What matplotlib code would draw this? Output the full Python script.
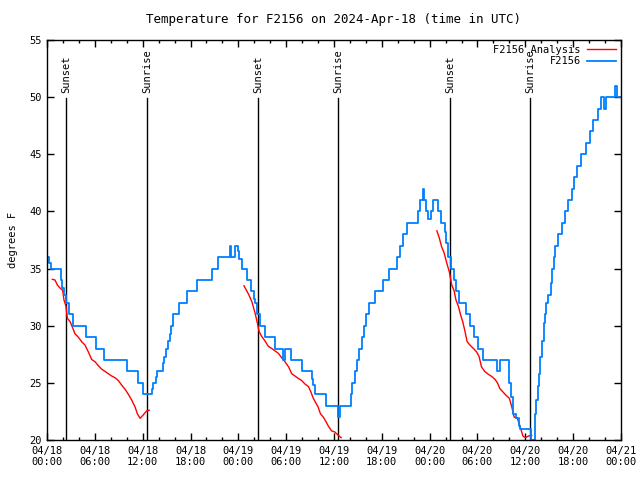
import numpy as np
import matplotlib.pyplot as plt
from matplotlib.ticker import MultipleLocator

# hours since 2024-04-18 00:00 UTC

# -- observed station temperature (value holds until next change)
obs_h = [0.0, 0.3, 0.5, 1.72, 1.92, 2.13, 2.38, 2.7, 3.3, 4.9, 6.15, 7.15, 10.07,
         11.4, 12.1, 13.15, 13.3, 13.7, 13.85, 14.5, 14.65, 14.9, 15.2, 15.4, 15.6,
         15.85, 16.5, 17.5, 18.85, 20.66, 21.5, 22.9, 23.1, 23.6, 23.95, 24.1, 24.4,
         25.1, 25.6, 25.95, 26.1, 26.4, 26.7, 27.35, 28.6, 29.6, 29.85, 30.6, 31.95,
         33.2, 33.4, 33.6, 35.0, 36.55, 36.8, 38.1, 38.3, 38.6, 38.85, 39.1, 39.45,
         39.75, 40.0, 40.4, 41.1, 42.1, 42.9, 43.9, 44.3, 44.6, 45.2, 46.5, 46.8,
         47.2, 47.35, 47.55, 47.8, 48.15, 48.4, 49.1, 49.4, 49.9, 50.1, 50.3, 50.7,
         51.05, 51.3, 51.7, 52.6, 53.1, 53.6, 54.1, 54.7, 56.5, 56.8, 58.0, 58.2,
         58.5, 58.8, 59.2, 59.35, 60.7, 61.2, 61.35, 61.6, 61.7, 61.9, 62.1, 62.3,
         62.45, 62.6, 62.9, 63.2, 63.4, 63.6, 63.7, 64.1, 64.6, 65.0, 65.4, 65.8,
         66.1, 66.5, 66.95, 67.6, 68.1, 68.5, 69.1, 69.5, 69.85, 70.1, 71.25, 71.45,
         72.0]
obs_t = [36, 35.5, 35, 34, 33.3, 32.7, 32, 31, 30, 29, 28, 27, 26,
         25, 24, 24.5, 25, 25.5, 26, 26.7, 27.3, 28, 28.7, 29.3, 30,
         31, 32, 33, 34, 35, 36, 37, 36, 37, 36.5, 35.8, 35,
         34, 33, 32.3, 32, 31, 30, 29, 28, 27, 28, 27, 26,
         25.3, 24.8, 24, 23, 22, 23, 24, 25, 26, 27, 28, 29,
         30, 31, 32, 33, 34, 35, 36, 37, 38, 39, 40, 41,
         42, 41, 40, 39.3, 40, 41, 40, 39, 38.2, 37.2, 36, 35,
         34, 33, 32, 31, 30, 29, 28, 27, 26, 27, 25, 23.8,
         22.3, 21.9, 21.2, 21, 20, 22.3, 23.5, 24.7, 25.8, 27.3, 28.7, 30.2,
         31, 32, 32.7, 33.7, 35, 36, 37, 38, 39, 40, 41, 42,
         43, 44, 45, 46, 47, 48, 49, 50, 49, 50, 51, 50,
         50]

# -- analysis, three night segments
ana1_h = [0.67, 1.0, 1.3, 1.63, 1.96, 2.13, 2.38, 2.55, 2.9, 3.2, 3.5, 3.93, 4.35,
          4.77, 5.19, 5.6, 6.02, 6.44, 6.86, 7.28, 7.69, 8.11, 8.53, 8.95, 9.37,
          9.78, 10.2, 10.62, 11.04, 11.33, 11.67, 12.08, 12.5, 12.83]
ana1_t = [34.06, 34.0, 33.56, 33.3, 33.1, 32.25, 31.7, 30.65, 30.35, 29.85, 29.3,
          29.0, 28.6, 28.3, 27.7, 27.05, 26.85, 26.5, 26.2, 26.0, 25.8, 25.6, 25.45,
          25.2, 24.8, 24.45, 24.0, 23.5, 22.9, 22.3, 21.9, 22.2, 22.55, 22.6]

ana2_h = [24.7, 25.25, 25.7, 26.1, 26.4, 26.6, 26.9, 27.35, 27.76, 28.2, 28.6, 29.0,
          29.44, 29.85, 30.3, 30.7, 31.1, 31.5, 31.95, 32.36, 32.8, 33.1, 33.4, 33.75,
          34.0, 34.3, 34.66, 35.0, 35.3, 35.7, 36.1, 36.55, 36.9]
ana2_t = [33.5, 32.8, 32.1, 31.1, 30.2, 29.5, 29.1, 28.66, 28.2, 28.0, 27.8, 27.6,
          27.2, 26.85, 26.4, 25.8, 25.6, 25.4, 25.2, 24.9, 24.67, 24.2, 23.65, 23.2,
          22.9, 22.3, 22.0, 21.6, 21.2, 20.8, 20.7, 20.4, 20.2]

ana3_h = [48.9, 49.2, 49.5, 49.8, 50.1, 50.47, 50.77, 51.05, 51.3, 51.6, 51.9, 52.15,
          52.43, 52.7, 53.06, 53.5, 53.9, 54.2, 54.5, 54.9, 55.36, 55.8, 56.2, 56.5,
          56.8, 57.2, 57.66, 58.0, 58.3, 58.6, 59.0, 59.33, 59.7, 60.0, 60.4, 60.8]
ana3_t = [38.3, 37.7, 36.9, 36.4, 35.6, 34.7, 33.56, 33.1, 32.25, 31.7, 30.9, 30.35,
          29.5, 28.6, 28.3, 28.0, 27.7, 27.3, 26.4, 26.0, 25.75, 25.55, 25.3, 25.0,
          24.5, 24.2, 23.85, 23.65, 22.9, 22.0, 21.9, 21.2, 20.35, 20.2, 20.35, 20.4]

sunset_h = [2.42, 26.5, 50.59]
sunrise_h = [12.58, 36.54, 60.62]

xtick_h = list(range(0, 73, 6))
xtick_labels = ['04/18\n00:00', '04/18\n06:00', '04/18\n12:00', '04/18\n18:00',
                '04/19\n00:00', '04/19\n06:00', '04/19\n12:00', '04/19\n18:00',
                '04/20\n00:00', '04/20\n06:00', '04/20\n12:00', '04/20\n18:00',
                '04/21\n00:00']

plt.rcParams['font.family'] = 'DejaVu Sans Mono'
plt.rcParams['font.size'] = 7.5

fig = plt.figure(figsize=(6.4, 4.8), dpi=100)
ax = fig.add_axes([47 / 640, 40 / 480, 574 / 640, 400 / 480])

# -- sun lines
for h in sunset_h:
    ax.plot([h, h], [20, 49.9], color='k', lw=1)
    ax.text(h, 50.4, 'Sunset', rotation=90, ha='center', va='bottom')
for h in sunrise_h:
    ax.plot([h, h], [20, 49.9], color='k', lw=1)
    ax.text(h, 50.4, 'Sunrise', rotation=90, ha='center', va='bottom')

# -- series
ax.plot(ana1_h, ana1_t, color='#ff0000', lw=1, label='F2156 Analysis')
ax.plot(ana2_h, ana2_t, color='#ff0000', lw=1)
ax.plot(ana3_h, ana3_t, color='#ff0000', lw=1)
ax.plot(obs_h, obs_t, color='#0080ff', lw=1.3, drawstyle='steps-post', label='F2156')

ax.set_xlim(0, 72)
ax.set_ylim(20, 55)
ax.set_xticks(xtick_h)
ax.set_xticklabels(xtick_labels)
ax.xaxis.set_minor_locator(MultipleLocator(2))
ax.yaxis.set_major_locator(MultipleLocator(5))
ax.tick_params(which='both', direction='in', top=True, right=True, width=1)
ax.tick_params(which='major', length=5, pad=4)
ax.tick_params(which='minor', length=2.5)
for sp in ax.spines.values():
    sp.set_linewidth(1)

ax.set_title('Temperature for F2156 on 2024-Apr-18 (time in UTC)', pad=12)
ax.set_ylabel('degrees F', labelpad=8)

ax.legend(loc='upper right', frameon=False, markerfirst=False, handlelength=2.8,
          borderaxespad=0.15, borderpad=0.3, labelspacing=0.15, handletextpad=0.6)

fig.savefig('out.png', dpi=100)
